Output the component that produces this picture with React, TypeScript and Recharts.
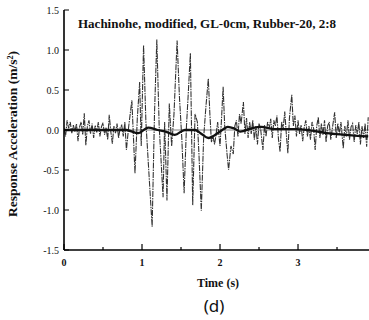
import { LineChart, Line, XAxis, YAxis, ReferenceLine } from 'recharts'

// thin (dash-dot) response record
const noiseTime = [
	0, 0.02, 0.04, 0.06, 0.08, 0.1, 0.12, 0.14, 0.16, 0.18, 0.2, 0.22, 0.24, 0.26, 0.28, 0.3, 0.32, 0.34, 0.36, 0.38,
	0.4, 0.42, 0.44, 0.46, 0.48, 0.5, 0.52, 0.54, 0.56, 0.58, 0.6, 0.62, 0.64, 0.66, 0.68, 0.7, 0.72, 0.74, 0.76, 0.78,
	0.8, 0.83, 0.87, 0.91, 0.94, 0.97, 0.99, 1.02, 1.05, 1.08, 1.13, 1.16, 1.19, 1.22, 1.24, 1.27, 1.29, 1.32, 1.35,
	1.38, 1.41, 1.45, 1.48, 1.51, 1.54, 1.57, 1.59, 1.62, 1.65, 1.68, 1.71, 1.73, 1.76, 1.79, 1.82, 1.85, 1.87, 1.89,
	1.91, 1.93, 1.95, 1.97, 2.0, 2.02, 2.04, 2.06, 2.09, 2.11, 2.14, 2.17, 2.19, 2.21, 2.23, 2.25, 2.27, 2.3, 2.32,
	2.34, 2.36, 2.38, 2.4, 2.42, 2.44, 2.46, 2.48, 2.5, 2.52, 2.55, 2.57, 2.59, 2.61, 2.63, 2.65, 2.67, 2.69, 2.71,
	2.73, 2.75, 2.77, 2.79, 2.81, 2.83, 2.85, 2.87, 2.89, 2.92, 2.94, 2.96, 2.98, 3.0, 3.02, 3.04, 3.06, 3.08, 3.1,
	3.12, 3.14, 3.16, 3.18, 3.2, 3.22, 3.24, 3.26, 3.28, 3.3, 3.32, 3.34, 3.36, 3.38, 3.4, 3.42, 3.44, 3.47, 3.49,
	3.51, 3.53, 3.55, 3.58, 3.6, 3.62, 3.64, 3.66, 3.68, 3.7, 3.72, 3.74, 3.76, 3.78, 3.8, 3.82, 3.84, 3.86, 3.88, 3.9,
]
const noiseAccel = [
	0.02, -0.08, 0.12, 0.02, 0.1, -0.04, 0.06, -0.02, 0.08, -0.14, 0.04, 0.1, -0.06, 0.21, -0.19, 0.05, 0.12, -0.05,
	0.08, -0.1, 0.06, -0.03, 0.1, -0.08, 0.04, 0.09, -0.06, 0.03, -0.12, 0.19, -0.02, -0.17, 0.05, -0.04, 0.08, -0.1,
	0.03, 0.06, -0.08, 0.1, -0.25, 0.05, 0.37, -0.54, 0.15, 0.6, -0.2, 1.06, 0.1, -0.4, -1.21, 0.2, 1.13, 0.05, -0.3,
	-0.84, 0.1, -0.88, 0.33, -0.2, 0.2, 1.12, 0.41, -0.1, -0.79, 0.05, 0.4, 0.96, -0.94, 0.2, 0.1, -0.3, -1.01, -0.1,
	0.3, 0.64, 0.2, -0.15, -0.08, -0.18, -0.05, 0.1, -0.2, 0.15, 0.54, 0.05, -0.3, -0.5, -0.2, -0.3, 0.05, 0.12, -0.08,
	0.2, 0.08, 0.35, -0.05, 0.15, -0.1, 0.1, -0.05, 0.12, -0.12, 0.05, -0.18, 0.08, 0.02, -0.25, 0.06, -0.08, 0.1,
	0.02, 0.14, -0.1, 0.12, 0.05, 0.18, -0.12, -0.27, 0.1, 0.02, 0.23, -0.05, -0.29, 0.15, 0.44, 0.05, 0.18, -0.08,
	0.12, -0.05, 0.06, -0.14, 0.04, 0.12, -0.08, 0.05, -0.12, 0.1, 0.02, -0.25, 0.05, 0.16, -0.1, 0.08, -0.06, 0.12,
	-0.15, 0.05, 0.1, -0.12, 0.02, 0.22, -0.1, 0.08, -0.05, 0.1, -0.23, 0.05, -0.08, 0.12, -0.12, 0.04, 0.08, -0.15,
	0.06, -0.05, 0.1, -0.18, 0.05, -0.1, 0.08, -0.21, 0.16,
]

// thick smooth curve
const meanTime = [0, 0.4, 0.8, 0.95, 1.08, 1.2, 1.3, 1.42, 1.55, 1.68, 1.75, 1.85, 2.0, 2.1, 2.18, 2.26, 2.4, 2.53, 2.7, 2.98, 3.2, 3.37, 3.6, 3.9]
const meanAccel = [0, 0, 0, -0.04, 0.03, 0, -0.02, -0.06, 0, 0, -0.04, -0.1, -0.02, 0.04, 0.02, -0.02, 0.02, 0.04, 0.01, 0.01, -0.01, -0.04, -0.06, -0.08]

const xTicks = [0, 0.5, 1, 1.5, 2, 2.5, 3, 3.5]
const yTicks = [-1.5, -1.25, -1, -0.75, -0.5, -0.25, 0, 0.25, 0.5, 0.75, 1, 1.25, 1.5]
const yLabels: Record<string, string> = { '1.5': '1.5', '1': '1.0', '0.5': '0.5', '0': '0.0', '-0.5': '-0.5', '-1': '-1.0', '-1.5': '-1.5' }

const noise = noiseTime.map((t, i) => ({ t, v: noiseAccel[i] }))
const mean = meanTime.map((t, i) => ({ t, v: meanAccel[i] }))

const serif = '"Liberation Serif", "Times New Roman", serif'

const YTick = ({ x, y, payload }: any) => {
	const label = yLabels[String(payload.value)]
	return (
		<g>
			<line x1={x} x2={x + (label ? 5 : 3)} y1={y} y2={y} stroke='#000' strokeWidth={1} />
			{label && (
				<text x={x - 5} y={y} dy={3.5} textAnchor='end' fontFamily={serif} fontSize={10} fill='#111'>
					{label}
				</text>
			)}
		</g>
	)
}

const XTick = ({ x, y, payload }: any) => {
	const major = Number.isInteger(payload.value)
	return (
		<g>
			<line x1={x} x2={x} y1={y} y2={y - (major ? 6 : 3)} stroke='#000' strokeWidth={1.2} />
			{major && (
				<text x={x} y={y + 16} textAnchor='middle' fontFamily={serif} fontWeight='bold' fontSize={10} fill='#111'>
					{payload.value}
				</text>
			)}
		</g>
	)
}

const TopTick = ({ x, y, payload }: any) => {
	const major = Number.isInteger(payload.value)
	return <line x1={x} x2={x} y1={y} y2={y + (major ? 5 : 3)} stroke='#000' strokeWidth={1} />
}

export default function App() {
	return (
		<div style={{ position: 'absolute', left: 0, top: 0, width: 369, height: 320, background: '#fff' }}>
			<LineChart width={369} height={320} margin={{ top: 10, right: 0, bottom: 0, left: 0 }}>
				<XAxis
					xAxisId='top'
					orientation='top'
					type='number'
					dataKey='t'
					domain={[0, 3.91]}
					allowDataOverflow
					ticks={xTicks}
					height={0}
					tickSize={0}
					tickMargin={0}
					tickLine={false}
					tick={<TopTick />}
					axisLine={{ stroke: '#333', strokeWidth: 1 }}
				/>
				<XAxis
					type='number'
					dataKey='t'
					domain={[0, 3.91]}
					allowDataOverflow
					ticks={xTicks}
					height={70}
					tickSize={0}
					tickMargin={0}
					tickLine={false}
					tick={<XTick />}
					axisLine={{ stroke: '#000', strokeWidth: 1.6 }}
				/>
				<YAxis
					type='number'
					domain={[-1.5, 1.5]}
					allowDataOverflow
					ticks={yTicks}
					width={64}
					tickSize={0}
					tickMargin={0}
					tickLine={false}
					tick={<YTick />}
					axisLine={{ stroke: '#000', strokeWidth: 1.6 }}
				/>
				<ReferenceLine y={0} stroke='#333' strokeWidth={0.6} />
				<Line
					data={noise}
					dataKey='v'
					type='linear'
					stroke='#333'
					strokeWidth={1.1}
					strokeDasharray='6 1 1.5 1'
					dot={false}
					isAnimationActive={false}
				/>
				<Line
					data={mean}
					dataKey='v'
					type='monotone'
					stroke='#111'
					strokeWidth={2.3}
					dot={false}
					isAnimationActive={false}
				/>
			</LineChart>
			<div style={{ position: 'absolute', left: 78, top: 16, fontFamily: serif, fontWeight: 'bold', fontSize: 13, color: '#111', whiteSpace: 'nowrap' }}>
				Hachinohe, modified, GL-0cm, Rubber-20, 2:8
			</div>
			<div
				style={{
					position: 'absolute',
					left: 13,
					top: 134,
					transform: 'translate(-50%, -50%) rotate(-90deg)',
					fontFamily: serif,
					fontWeight: 'bold',
					fontSize: 13.5,
					color: '#111',
					whiteSpace: 'nowrap',
				}}
			>
				Response Acceleration (m/s²)
			</div>
			<div style={{ position: 'absolute', left: 218, top: 283, transform: 'translate(-50%, -50%)', fontFamily: serif, fontWeight: 'bold', fontSize: 12, color: '#111', whiteSpace: 'nowrap' }}>
				Time (s)
			</div>
			<div style={{ position: 'absolute', left: 214, top: 305, transform: 'translate(-50%, -50%)', fontFamily: '"Noto Sans", sans-serif', fontSize: 17, color: '#111' }}>
				(d)
			</div>
		</div>
	)
}
